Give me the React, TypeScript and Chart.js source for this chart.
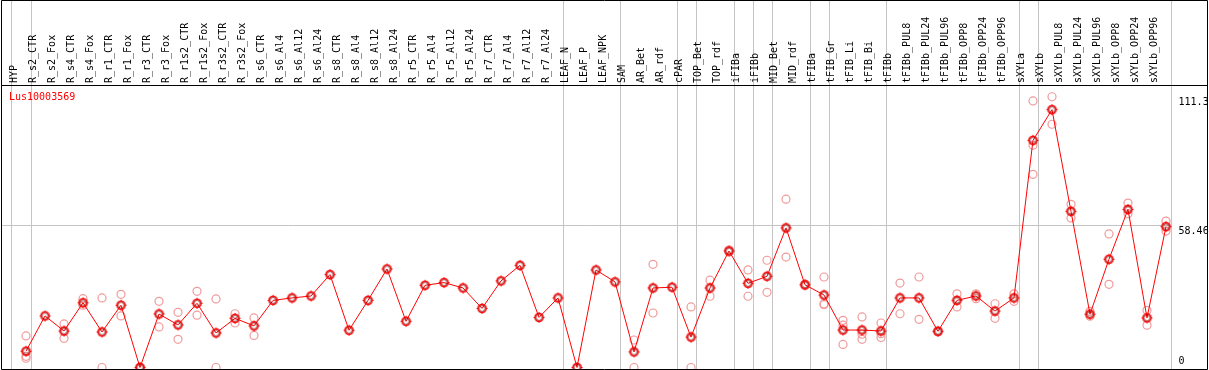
import React, { useEffect, useRef } from 'react';
import { Chart, registerables } from 'chart.js';

Chart.register(...registerables);

const geneLabel = 'Lus10003569';

const categories = [
  'HYP', 'R_s2_CTR', 'R_s2_Fox', 'R_s4_CTR', 'R_s4_Fox', 'R_r1_CTR', 'R_r1_Fox', 'R_r3_CTR', 'R_r3_Fox',
  'R_r1s2_CTR', 'R_r1s2_Fox', 'R_r3s2_CTR', 'R_r3s2_Fox', 'R_s6_CTR', 'R_s6_Al4', 'R_s6_Al12', 'R_s6_Al24',
  'R_s8_CTR', 'R_s8_Al4', 'R_s8_Al12', 'R_s8_Al24', 'R_r5_CTR', 'R_r5_Al4', 'R_r5_Al12', 'R_r5_Al24',
  'R_r7_CTR', 'R_r7_Al4', 'R_r7_Al12', 'R_r7_Al24', 'LEAF_N', 'LEAF_P', 'LEAF_NPK', 'SAM', 'AR_Bet', 'AR_rdf',
  'cPAR', 'TOP_Bet', 'TOP_rdf', 'iFIBa', 'iFIBb', 'MID_Bet', 'MID_rdf', 'tFIBa', 'tFIB_Gr', 'tFIB_Li', 'tFIB_Bi',
  'tFIBb', 'tFIBb_PUL8', 'tFIBb_PUL24', 'tFIBb_PUL96', 'tFIBb_OPP8', 'tFIBb_OPP24', 'tFIBb_OPP96',
  'sXYLa', 'sXYLb', 'sXYLb_PUL8', 'sXYLb_PUL24', 'sXYLb_PUL96', 'sXYLb_OPP8', 'sXYLb_OPP24', 'sXYLb_OPP96',
];

const meanValues = [
  6.7, 21.2, 15.0, 26.6, 14.6, 25.6, 0, 22.0, 17.5,
  26.4, 14.2, 20.2, 17.1, 27.6, 28.6, 29.4, 38.2,
  15.3, 27.6, 40.5, 19.0, 33.8, 34.9, 32.7, 24.3,
  35.6, 42.0, 20.6, 28.6, 0, 40.1, 35.2, 6.4, 32.7, 33.0,
  12.5, 32.7, 47.9, 34.6, 37.5, 57.4, 34.0, 29.8, 15.4, 15.4, 15.0,
  28.6, 28.6, 14.9, 27.6, 29.4, 23.2, 28.6,
  93.4, 106.0, 64.2, 21.9, 44.5, 65.0, 20.4, 57.9,
];

const rep1 = [
  13.0, null, 17.9, 28.3, 28.6, 30.1, 0, 27.2, 22.7,
  31.3, 28.2, 22.1, 20.4, null, null, null, null,
  null, null, null, null, null, null, null, null,
  null, null, null, null, null, null, null, 11.3, 42.4, null,
  24.9, 35.9, 48.3, 40.1, 44.1, 69.2, 34.3, 37.2, 19.4, 20.8, 18.3,
  34.7, 37.2, 15.0, 30.3, 30.3, 26.2, 30.3,
  109.6, 111.3, 67.1, 23.1, 54.9, 67.6, 23.5, 60.2,
];

const rep2 = [
  4.6, null, 12.0, 25.6, 0, 21.2, 0, 16.7, 11.6,
  21.5, 0, 18.3, 13.2, null, null, null, null,
  null, null, null, null, null, null, null, null,
  null, null, null, null, null, null, null, 0, 22.4, null,
  0, 29.3, 47.5, 29.3, 30.9, 45.4, 33.7, 26.2, 17.4, 13.7, 13.9,
  22.1, 19.8, 14.6, 24.9, 28.3, 20.2, 27.2,
  91.4, 100.0, 61.5, 21.1, 34.2, 63.2, 17.4, 56.1,
];

const rep3 = [
  3.8, null, null, null, null, null, null, null, null,
  null, null, null, null, null, null, null, null,
  null, null, null, null, null, null, null, null,
  null, null, null, null, null, null, null, null, null, null,
  null, null, null, null, null, null, null, 25.8, 9.5, 11.6, 12.3,
  null, null, null, null, null, null, null,
  79.4, null, null, null, null, null, null, null,
];

const yTickValues = [0, 58.46, 111.3];
const yTickLabels = ['0', '58.46', '111.3'];

// group separators (in category-index units)
const groupBreaks = [-0.8, 0.24, 28.25, 31.24, 34.25, 35.25, 37.25, 38.25, 39.25, 41.25, 42.25, 45.25, 52.25, 53.25, 60.24];

const MONO = '"DejaVu Sans Mono", "Liberation Mono", monospace';

const toPoints = (arr: (number | null)[]) =>
  arr.map((v, i) => (v === null ? null : { x: i, y: v })).filter((p) => p !== null);

function makeMeanMarker(): HTMLCanvasElement {
  const c = document.createElement('canvas');
  c.width = 13;
  c.height = 13;
  const g = c.getContext('2d') as CanvasRenderingContext2D;
  const m = 6.5;
  g.strokeStyle = '#ff0000';
  g.lineWidth = 1.6;
  g.beginPath();
  g.arc(m, m, 4, 0, Math.PI * 2);
  g.stroke();
  g.fillStyle = '#ff0000';
  g.fillRect(6, 1, 1, 1);
  g.fillRect(6, 11, 1, 1);
  g.fillRect(1, 6, 1, 1);
  g.fillRect(11, 6, 1, 1);
  g.strokeStyle = 'rgba(90,0,0,0.8)';
  g.lineWidth = 0.8;
  g.beginPath();
  g.arc(m, m, 2.9, 0, Math.PI * 2);
  g.stroke();
  return c;
}

const decorPlugin = {
  id: 'decor',
  beforeDraw(chart: any) {
    const { ctx, chartArea, scales } = chart;
    const xs = scales.x;
    const ys = scales.y;
    ctx.save();
    ctx.strokeStyle = '#c4c4c4';
    ctx.lineWidth = 1;
    for (const b of groupBreaks) {
      const px = Math.round(xs.getPixelForValue(b)) + 0.5;
      ctx.beginPath();
      ctx.moveTo(px, 0);
      ctx.lineTo(px, chartArea.bottom);
      ctx.stroke();
    }
    const lastBreak = Math.round(xs.getPixelForValue(groupBreaks[groupBreaks.length - 1])) + 0.5;
    const py = Math.round(ys.getPixelForValue(yTickValues[1])) + 0.5;
    ctx.beginPath();
    ctx.moveTo(chartArea.left, py);
    ctx.lineTo(lastBreak, py);
    ctx.stroke();
    ctx.restore();
  },
  afterDraw(chart: any) {
    const { ctx, chartArea, scales } = chart;
    const xs = scales.x;
    const ys = scales.y;
    ctx.save();
    ctx.strokeStyle = '#000';
    ctx.lineWidth = 1;
    ctx.beginPath();
    ctx.moveTo(1.5, 0.5);
    ctx.lineTo(chartArea.right + 0.5, 0.5);
    ctx.lineTo(chartArea.right + 0.5, chartArea.bottom + 0.5);
    ctx.lineTo(1.5, chartArea.bottom + 0.5);
    ctx.closePath();
    ctx.stroke();
    ctx.beginPath();
    ctx.moveTo(1.5, chartArea.top + 0.5);
    ctx.lineTo(chartArea.right + 0.5, chartArea.top + 0.5);
    ctx.stroke();
    const lastBreak = xs.getPixelForValue(groupBreaks[groupBreaks.length - 1]);
    ctx.font = '10px ' + MONO;
    ctx.fillStyle = '#000';
    ctx.textAlign = 'left';
    ctx.textBaseline = 'middle';
    yTickValues.forEach((v, i) => {
      const p = ys.getPixelForValue(v);
      const y = Math.min(p + 6, chartArea.bottom - 8);
      ctx.fillText(yTickLabels[i], lastBreak + 8, y);
    });
    ctx.fillStyle = '#ff0000';
    ctx.fillText(geneLabel, 9, chartArea.top + 12);
    ctx.restore();
  },
};

export default function App() {
  const canvasRef = useRef<HTMLCanvasElement | null>(null);

  useEffect(() => {
    if (!canvasRef.current) return;
    const meanMarker = makeMeanMarker();
    const repStyle = {
      showLine: false,
      pointStyle: 'circle' as const,
      pointRadius: 4,
      pointBorderWidth: 1.2,
      pointBorderColor: '#f09a9a',
      pointBackgroundColor: 'rgba(0,0,0,0)',
      borderColor: '#f09a9a',
      clip: false as any,
    };
    const chart = new Chart(canvasRef.current, {
      type: 'line',
      data: {
        datasets: [
          {
            label: 'mean',
            data: toPoints(meanValues) as any,
            borderColor: '#ff0000',
            borderWidth: 1,
            pointStyle: meanMarker as any,
            pointRadius: 6,
            tension: 0,
            clip: false as any,
          },
          { label: 'r1', data: toPoints(rep1) as any, ...repStyle },
          { label: 'r2', data: toPoints(rep2) as any, ...repStyle },
          { label: 'r3', data: toPoints(rep3) as any, ...repStyle },
        ],
      },
      options: {
        animation: false,
        responsive: false,
        devicePixelRatio: 1,
        events: [],
        layout: { autoPadding: false, padding: { left: 1, right: 2, top: 0, bottom: 1 } },
        plugins: { legend: { display: false }, tooltip: { enabled: false } },
        scales: {
          x: {
            type: 'linear',
            position: 'top',
            min: -1.316,
            max: 62.158,
            grid: { display: false, drawTicks: false, tickLength: 0 },
            border: { display: false },
            afterBuildTicks: (s: any) => {
              s.ticks = categories.map((_, i) => ({ value: i }));
            },
            afterFit: (s: any) => {
              s.height = 85;
              s.paddingLeft = 0;
              s.paddingRight = 0;
            },
            ticks: {
              autoSkip: false,
              minRotation: 90,
              maxRotation: 90,
              padding: 2,
              color: '#000',
              font: { family: MONO, size: 10 },
              callback: (v: any) => (Number.isInteger(v) ? categories[v] : ''),
            },
          },
          y: {
            type: 'linear',
            display: false,
            min: -0.617,
            max: 116.14,
          },
        },
      },
      plugins: [decorPlugin],
    });
    return () => chart.destroy();
  }, []);

  return (
    <div style={{ position: 'absolute', left: 0, top: 0, width: 1209, height: 370, background: '#fff' }}>
      <canvas ref={canvasRef} width={1209} height={370} style={{ display: 'block', width: 1209, height: 370 }} />
    </div>
  );
}
